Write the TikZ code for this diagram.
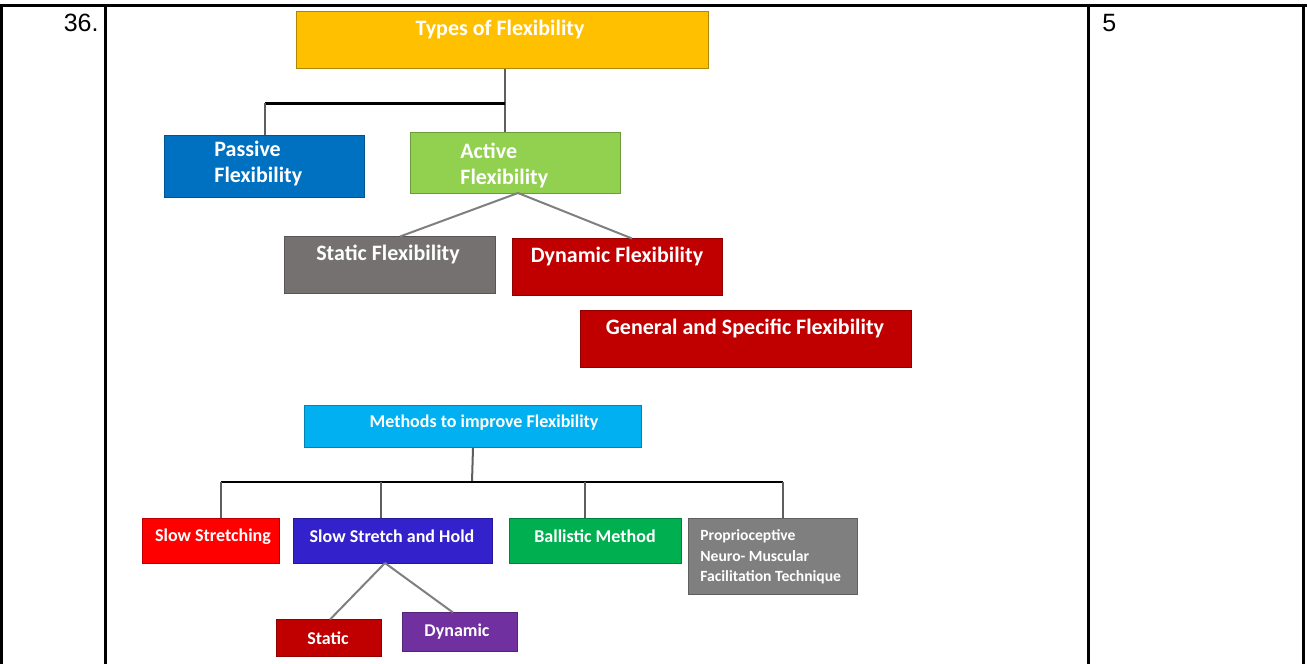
\documentclass[tikz,border=0pt]{standalone}
\usepackage{fontspec}
\setmainfont{Carlito}
\newfontfamily\cellfont{Liberation Sans}
\usepackage{tikz}
\usepackage{xcolor}

\definecolor{typesyellow}{HTML}{FFC000}
\definecolor{passiveblue}{HTML}{0070C0}
\definecolor{activegreen}{HTML}{92D050}
\definecolor{staticgray}{HTML}{757171}
\definecolor{darkred}{HTML}{C00000}
\definecolor{methodsblue}{HTML}{00B0F0}
\definecolor{slowred}{HTML}{FF0000}
\definecolor{holdblue}{HTML}{3322CC}
\definecolor{ballgreen}{HTML}{00B050}
\definecolor{pnfgray}{HTML}{7F7F7F}
\definecolor{dynpurple}{HTML}{7030A0}
\definecolor{stemgray}{HTML}{5F5F5F}

\begin{document}
\begin{tikzpicture}[x=0.5pt, y=-0.5pt,
    box/.style={rectangle, anchor=north west, inner sep=0pt, line width=0.5pt},
    lbl/.style={inner sep=0pt, text=white, font=\bfseries\fontsize{11}{13}\selectfont},
    small/.style={inner sep=0pt, text=white, font=\bfseries\fontsize{9}{11}\selectfont},
    rule/.style={line width=1.5pt, black},
    bar/.style={line width=1.5pt, black},
    stem/.style={line width=1pt, stemgray},
    twig/.style={line width=1pt, pnfgray}]
        \useasboundingbox (0,0) rectangle (1307,664);
        % Table frame
        \draw[rule] (0,5) -- (1307,5);
        \foreach \xx in {1,105,1088,1303}
            \draw[rule] (\xx,5) -- (\xx,664);
        \node[inner sep=0pt, anchor=base east, font=\cellfont\fontsize{12.5}{14}\selectfont] (qno) at (99,32) {36.};
        \node[inner sep=0pt, anchor=base west, font=\cellfont\fontsize{12.5}{14}\selectfont] (marks) at (1102,32) {5};
        % Types of flexibility
        \node[box, fill=typesyellow, draw=typesyellow!70!black, minimum width=206pt, minimum height=28.5pt] (types) at (296,11) {};
        \node[lbl] (types-t) at (500,30) {Types of Flexibility};
        \node[box, fill=passiveblue, draw=passiveblue!75!black, minimum width=100pt, minimum height=31pt] (passive) at (164,135) {};
        \node[lbl, anchor=west, align=left] (passive-t) at (214,164) {Passive\\Flexibility};
        \node[box, fill=activegreen, draw=activegreen!75!black, minimum width=105pt, minimum height=30.5pt] (active) at (410,132) {};
        \node[lbl, anchor=west, align=left] (active-t) at (460,165) {Active\\Flexibility};
        \node[box, fill=staticgray, draw=staticgray!75!black, minimum width=105.5pt, minimum height=28.5pt] (statf) at (284,236) {};
        \node[lbl] (statf-t) at (388,254) {Static Flexibility};
        \node[box, fill=darkred, draw=darkred!75!black, minimum width=105pt, minimum height=28.5pt] (dynf) at (512,238) {};
        \node[lbl] (dynf-t) at (617,257) {Dynamic Flexibility};
        \node[box, fill=darkred, draw=darkred!75!black, minimum width=165.5pt, minimum height=28.5pt] (general) at (580,310) {};
        \node[lbl] (general-t) at (745,328) {General and Specific Flexibility};
        % connectors, first tree
        \coordinate (fork1) at (505,103);
        \draw[stem] (fork1 |- types.south) -- (fork1) -- (fork1 |- active.north);
        \draw[bar] (fork1) -- (fork1 -| passive.north);
        \draw[stem] (fork1 -| passive.north) -- (passive.north);
        \coordinate (apex1) at (518,193);
        \draw[twig] (apex1) -- (400,236.5);
        \draw[twig] (apex1) -- (632,238.5);
        % Methods to improve flexibility
        \node[box, fill=methodsblue, draw=methodsblue!75!black, minimum width=168.5pt, minimum height=21pt] (methods) at (304,405) {};
        \node[small] (methods-t) at (484,423) {Methods to improve Flexibility};
        \node[box, fill=slowred, draw=slowred!75!black, minimum width=68.5pt, minimum height=22.5pt] (slow) at (142,518) {};
        \node[small] (slow-t) at (213,537) {Slow Stretching};
        \node[box, fill=holdblue, draw=holdblue!75!black, minimum width=99.5pt, minimum height=22.5pt] (hold) at (293,518) {};
        \node[small] (hold-t) at (392,536) {Slow Stretch and Hold};
        \node[box, fill=ballgreen, draw=ballgreen!75!black, minimum width=86pt, minimum height=22.5pt] (ballistic) at (509,518) {};
        \node[small] (ballistic-t) at (595,536) {Ballistic Method};
        \node[box, fill=pnfgray, draw=pnfgray!75!black, minimum width=84.5pt, minimum height=38pt] (pnf) at (688,518) {};
        \node[small, anchor=west, align=left, font=\bfseries\fontsize{7.8}{10.2}\selectfont] (pnf-t) at (700,557) {Proprioceptive\\Neuro- Muscular\\Facilitation Technique};
        \node[box, fill=darkred, draw=darkred!75!black, minimum width=52.5pt, minimum height=18.5pt] (static) at (276,619) {};
        \node[small] (static-t) at (328,638) {Static};
        \node[box, fill=dynpurple, draw=dynpurple!75!black, minimum width=57.5pt, minimum height=19.5pt] (dynamic) at (402,612) {};
        \node[small] (dynamic-t) at (457,632) {Dynamic};
        % connectors, second tree
        \coordinate (fork2) at (472,482);
        \draw[stem] (methods.south) -- (fork2);
        \draw[line width=1pt, black] (221,482) coordinate (b1) -- (783,482) coordinate (b4);
        \coordinate (b2) at (381,482);
        \coordinate (b3) at (585,482);
        \draw[stem] (b1) -- (b1 |- slow.north);
        \draw[stem] (b2) -- (b2 |- hold.north);
        \draw[stem] (b3) -- (b3 |- ballistic.north);
        \draw[stem] (b4) -- (b4 |- pnf.north);
        \coordinate (apex2) at (385,563);
        \draw[twig] (apex2) -- (330,619.5);
        \draw[twig] (apex2) -- (453,612.5);
    \end{tikzpicture}
\end{document}
